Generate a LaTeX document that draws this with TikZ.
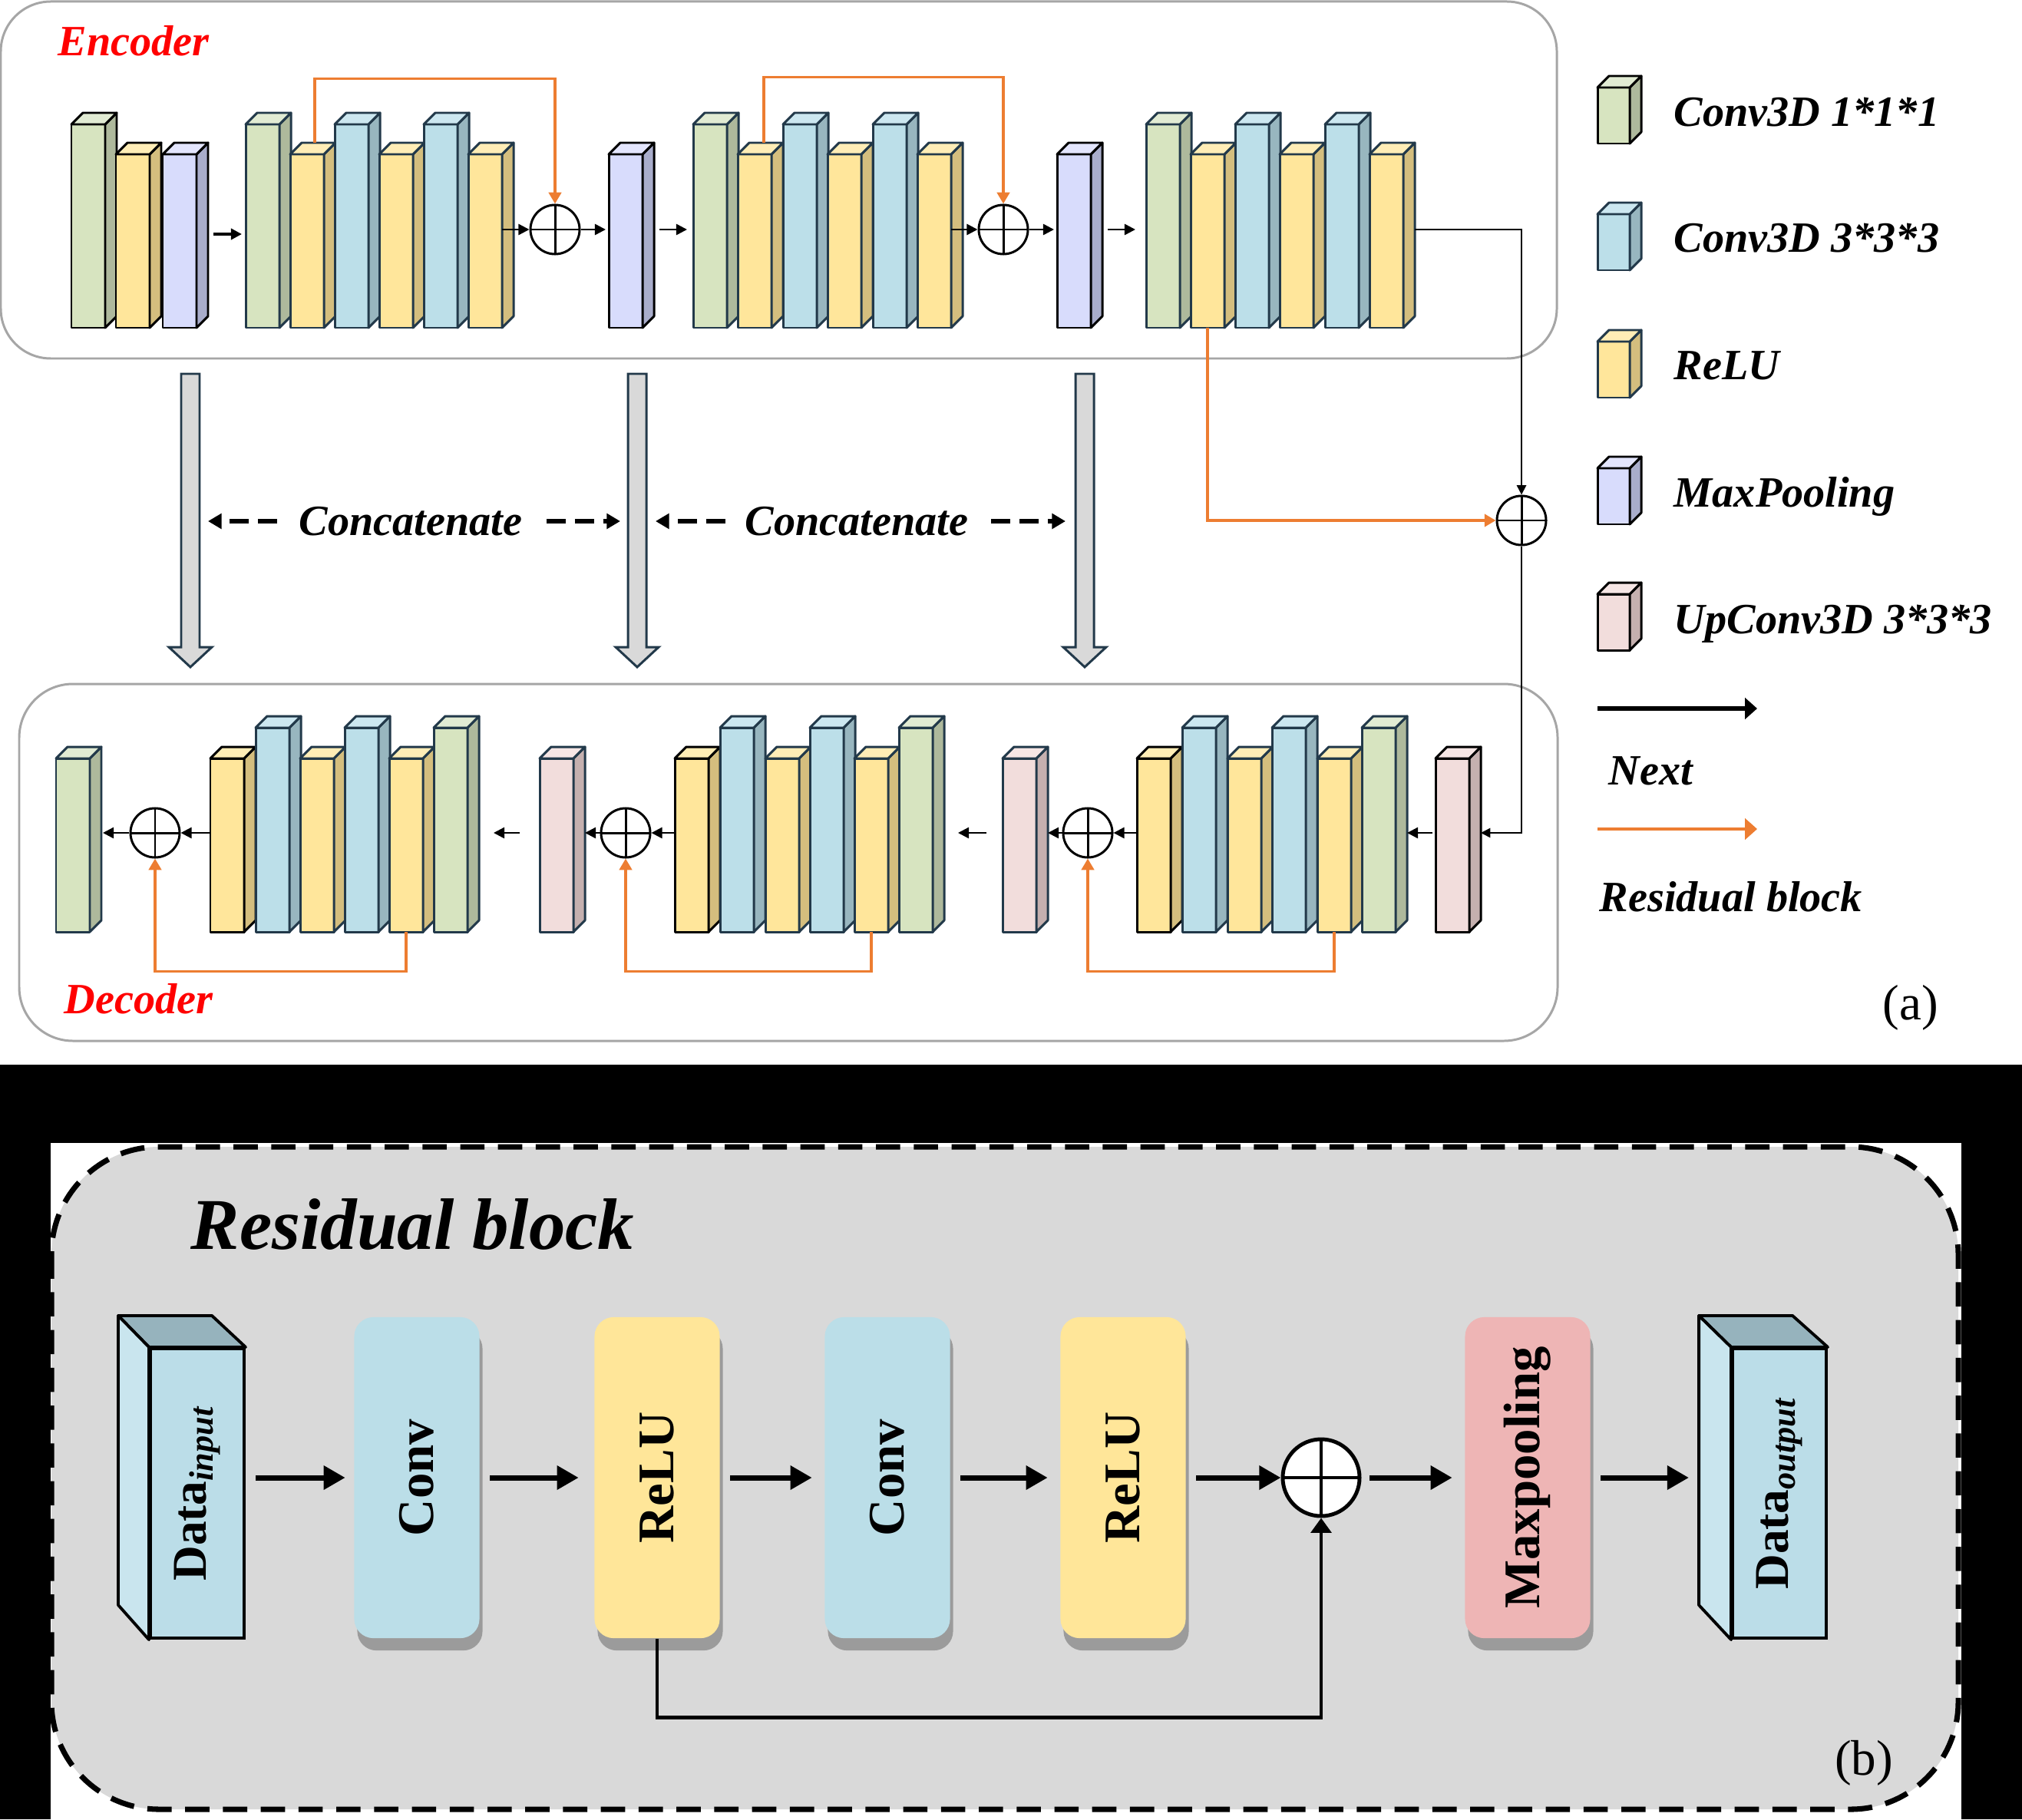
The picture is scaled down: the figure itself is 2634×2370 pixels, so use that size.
\documentclass[tikz,border=0pt]{standalone}
\usepackage{fontspec}
\usepackage{graphicx}
\setmainfont{Liberation Serif}
\usetikzlibrary{arrows.meta,calc,shadows}

\definecolor{slate}{HTML}{22394A}
\definecolor{grn}{HTML}{D7E4C0}\definecolor{grnside}{HTML}{AEB99C}\definecolor{grntop}{HTML}{E1EBD3}
\definecolor{blu}{HTML}{BCDFE9}\definecolor{bluside}{HTML}{98B6BF}\definecolor{blutop}{HTML}{CCE7F0}
\definecolor{ylw}{HTML}{FFE69B}\definecolor{ylwside}{HTML}{D4BE7E}\definecolor{ylwtop}{HTML}{FFEDB6}
\definecolor{prp}{HTML}{D8DCFC}\definecolor{prpside}{HTML}{A9ADCB}\definecolor{prptop}{HTML}{E3E5FD}
\definecolor{pnk}{HTML}{F2DDDC}\definecolor{pnkside}{HTML}{C5B0AF}\definecolor{pnktop}{HTML}{F6E6E5}
\definecolor{res}{HTML}{ED7D31}
\definecolor{frm}{HTML}{A6A6A6}
\definecolor{panel}{HTML}{D9D9D9}
\definecolor{cv}{HTML}{BBDEE8}
\definecolor{rl}{HTML}{FFE699}
\definecolor{mp}{HTML}{EEB5B5}
\definecolor{dfront}{HTML}{BBDDE8}\definecolor{dtop}{HTML}{96B3BD}\definecolor{dside}{HTML}{C9E5EE}

% one 3D slab: name, corner, width, height, colour, border
\newcommand{\slab}[6]{%
  \node[bar, draw=#6, fill=#5, minimum width=#3*0.01cm, minimum height=#4*0.01cm] (#1) at (#2) {};
  \filldraw[face, draw=#6, fill=#5side] (#1.north east) -- ++(15,-15) -- ++(0,#4) -- (#1.south east) -- cycle;
  \filldraw[face, draw=#6, fill=#5top] (#1.north west) -- ++(15,-15) -- ++(#3,0) -- (#1.north east) -- cycle;
}

\tikzset{
  bar/.style={anchor=north west, inner sep=0pt, outer sep=0pt, line width=0.85pt, line join=round},
  face/.style={line width=0.85pt, line join=round},
  addop/.style={circle, draw, fill=white, line width=0.85pt, minimum size=0.64cm, inner sep=0pt,
    path picture={\draw[line width=0.85pt] (path picture bounding box.north) -- (path picture bounding box.south)
      (path picture bounding box.west) -- (path picture bounding box.east);}},
  flow/.style={-{Triangle[length=4pt,width=4pt]}, line width=0.7pt},
  feed/.style={-{Triangle[length=3.5pt,width=3.5pt]}, line width=0.5pt},
  resid/.style={res, -{Triangle[length=4.2pt,width=4.6pt]}, line width=1.1pt},
  boxline/.style={draw=frm, line width=0.85pt, rounded corners=0.65cm},
  lbl/.style={font=\fontsize{16}{19}\selectfont\bfseries\itshape, inner sep=0pt},
  hollow/.style={fill=panel, draw=slate, line width=0.85pt, line join=miter},
  cat/.style={-{Triangle[length=5pt,width=5.5pt]}, line width=1.5pt, dash pattern=on 7pt off 3.5pt},
  nextarrow/.style={-{Triangle[length=4.5pt,width=7.7pt]}, line width=1.7pt},
  blockb/.style={rounded corners=0.25cm, minimum width=1.63cm, minimum height=4.18cm, inner sep=0pt,
    font=\fontsize{19}{19}\selectfont\bfseries,
    drop shadow={shadow xshift=0.04cm, shadow yshift=-0.16cm, fill=black!55, opacity=0.6}},
  dbox/.style={draw, fill=dfront, line width=1.1pt, minimum width=1.22cm, minimum height=3.77cm, inner sep=0pt,
    font=\fontsize{18}{18}\selectfont\bfseries},
  dface/.style={line width=1.1pt, line join=round},
  addb/.style={circle, draw, fill=white, line width=1.4pt, minimum size=1cm, inner sep=0pt,
    path picture={\draw[line width=1.4pt] (path picture bounding box.north) -- (path picture bounding box.south)
      (path picture bounding box.west) -- (path picture bounding box.east);}},
  bflow/.style={-{Triangle[length=8pt,width=8.5pt]}, line width=2pt, shorten <=0.13cm, shorten >=0.16cm},
  skip/.style={-{Triangle[length=5.5pt,width=7.5pt]}, line width=1.4pt},
}

\begin{document}
\begin{tikzpicture}[x=0.01cm, y=-0.01cm]
  \useasboundingbox (0,0) rectangle (2634,2370);
  \fill[white] (0,0) rectangle (2634,1387);
  \fill[black] (0,1387) rectangle (2634,2370);
  \fill[white] (66,1489) rectangle (2555,2370);

  % (a) frames
  \draw[boxline] (1,2) rectangle (2028,467);
  \draw[boxline, rounded corners=0.7cm] (25,891) rectangle (2029,1356);
  \node[lbl, text=red, anchor=base west] (enc) at (75,73) {Encoder};
  \node[lbl, text=red, anchor=base west] (dec) at (83,1320) {Decoder};

  % skip connections between encoder and decoder
  \foreach \n/\cx in {sh1/248, sh2/830, sh3/1413} {
    \filldraw[hollow] (\cx-12,487) -- (\cx+12,487) -- (\cx+12,843) -- (\cx+28,843)
      -- (\cx,869) -- (\cx-28,843) -- (\cx-12,843) -- cycle;
    \coordinate (\n) at (\cx,679);
  }
  \node[lbl, anchor=base] (cc1) at (535,697) {Concatenate};
  \node[lbl, anchor=base] (cc2) at (1116,697) {Concatenate};
  \draw[cat] ($(cc1.west|-sh1)+(-28,0)$) -- ($(sh1)+(23,0)$);
  \draw[cat] ($(cc1.east|-sh1)+(31,0)$) -- ($(sh2)+(-22,0)$);
  \draw[cat] ($(cc2.west|-sh2)+(-25,0)$) -- ($(sh2)+(24,0)$);
  \draw[cat] ($(cc2.east|-sh2)+(29,0)$) -- ($(sh3)+(-25,0)$);

  % encoder
  \foreach \n/\x/\tp/\h/\col/\bd in {a1/93/162/265/grn/black, a2/151/201/226/ylw/black, a3/212/201/226/prp/black,
      b1/320/162/265/grn/slate, b2/378/201/226/ylw/slate, b3/436/162/265/blu/slate,
      b4/494/201/226/ylw/slate, b5/552/162/265/blu/slate, b6/610/201/226/ylw/slate,
      m1/793/201/226/prp/black,
      c1/903/162/265/grn/slate, c2/961/201/226/ylw/slate, c3/1020/162/265/blu/slate,
      c4/1078/201/226/ylw/slate, c5/1137/162/265/blu/slate, c6/1195/201/226/ylw/slate,
      m2/1377/201/226/prp/black,
      d1/1493/162/265/grn/slate, d2/1551/201/226/ylw/slate, d3/1609/162/265/blu/slate,
      d4/1667/201/226/ylw/slate, d5/1726/162/265/blu/slate, d6/1784/201/226/ylw/slate} {
    \slab{\n}{\x,\tp}{44}{\h}{\col}{\bd}
  }
  \node[addop] (s1) at (723,299) {};
  \node[addop] (s2) at (1307,299) {};
  \node[addop] (s3) at (1982,678) {};

  \draw[flow, line width=1.1pt] ($(a3.east|-s1)+(22,6)$) -- ($(b1.west|-s1)+(-5,6)$);
  \draw[flow] (b6.east|-s1) -- (s1.west);
  \draw[flow] (s1.east) -- ($(m1.west|-s1)+(-4,0)$);
  \draw[flow] ($(m1.east|-s1)+(22,0)$) -- ($(c1.west|-s1)+(-8,0)$);
  \draw[flow] (c6.east|-s2) -- (s2.west);
  \draw[flow] (s2.east) -- ($(m2.west|-s2)+(-4,0)$);
  \draw[flow] ($(m2.east|-s2)+(22,0)$) -- ($(d1.west|-s2)+(-14,0)$);
  \draw[resid] ($(b2.north)+(10,-15)$) |- ($(s1.north)+(0,-163)$) -- (s1.north);
  \draw[resid] ($(c2.north)+(12,-15)$) |- ($(s2.north)+(0,-165)$) -- (s2.north);
  \draw[resid] (d2.south) |- (s3.west);
  \draw[feed] ($(d6.east|-s2)+(15,0)$) -| (s3.north);

  % decoder
  \foreach \n/\x/\tp/\h/\col/\bd in {out/73/988/226/grn/slate,
      k1/274/988/226/ylw/black, k2/333/948/266/blu/slate, k3/391/988/226/ylw/slate,
      k4/449/948/266/blu/slate, k5/507/988/226/ylw/slate, k6/565/948/266/grn/slate,
      up3/703/988/226/pnk/slate,
      h1/879/988/226/ylw/black, h2/938/948/266/blu/slate, h3/997/988/226/ylw/slate,
      h4/1055/948/266/blu/slate, h5/1113/988/226/ylw/slate, h6/1171/948/266/grn/slate,
      up2/1306/988/226/pnk/slate,
      f1/1481/988/226/ylw/black, f2/1540/948/266/blu/slate, f3/1599/988/226/ylw/slate,
      f4/1657/948/266/blu/slate, f5/1716/988/226/ylw/slate, f6/1774/948/266/grn/slate,
      up1/1870/988/226/pnk/black} {
    \slab{\n}{\x,\tp}{44}{\h}{\col}{\bd}
  }
  \node[addop] (s4) at (1417,1085) {};
  \node[addop] (s5) at (815,1085) {};
  \node[addop] (s6) at (202,1085) {};

  \draw[feed] (s3.south) |- ($(up1.east|-s4)+(15,0)$);
  \draw[flow] ($(up1.west|-s4)+(-4,0)$) -- ($(f6.east|-s4)+(15,0)$);
  \draw[flow] (f1.west|-s4) -- (s4.east);
  \draw[flow] (s4.west) -- ($(up2.east|-s4)+(15,0)$);
  \draw[flow] ($(up2.west|-s5)+(-21,0)$) -- ($(h6.east|-s5)+(33,0)$);
  \draw[flow] (h1.west|-s5) -- (s5.east);
  \draw[flow] (s5.west) -- ($(up3.east|-s5)+(15,0)$);
  \draw[flow] ($(up3.west|-s6)+(-26,0)$) -- ($(k6.east|-s6)+(34,0)$);
  \draw[flow] (k1.west|-s6) -- (s6.east);
  \draw[flow] (s6.west) -- ($(out.east|-s6)+(17,0)$);
  \draw[resid] (f5.south) |- ($(s4.south)+(0,147)$) -- (s4.south);
  \draw[resid] (h5.south) |- ($(s5.south)+(0,147)$) -- (s5.south);
  \draw[resid] (k5.south) |- ($(s6.south)+(0,147)$) -- (s6.south);

  % legend
  \foreach \n/\tp/\col/\bd in {lg1/114/grn/black, lg2/279/blu/slate, lg3/445/ylw/slate, lg4/610/prp/black, lg5/774/pnk/black} {
    \slab{\n}{2081,\tp}{42}{73}{\col}{\bd}
  }
  \foreach \n/\y/\txt in {lt1/165/Conv3D 1*1*1, lt2/329/Conv3D 3*3*3, lt3/494/ReLU, lt4/660/MaxPooling, lt5/825/UpConv3D 3*3*3} {
    \node[lbl, anchor=base west] (\n) at (2180,\y) {\txt};
  }
  \coordinate (nx0) at (2081,923);
  \coordinate (nx1) at (2289,923);
  \coordinate (rs0) at (2081,1080);
  \coordinate (rs1) at (2289,1080);
  \draw[nextarrow] (nx0) -- (nx1);
  \draw[nextarrow, res, line width=1.3pt] (rs0) -- (rs1);
  \node[lbl, anchor=base west] (nxt) at (2095,1022) {Next};
  \node[lbl, anchor=base west] (rsb) at (2083,1187) {Residual block};
  \node[font=\fontsize{18.5}{20}\selectfont, inner sep=0pt] (taga) at (2489,1313) {(a)};

  % (b) residual block
  \draw[fill=panel, line width=2pt, dash pattern=on 9pt off 5pt, rounded corners=1.4cm] (67,1494) rectangle (2551,2357);
  \node[font=\fontsize{27}{30}\selectfont\bfseries\itshape, inner sep=0pt, anchor=base west] (ttl) at (248,1627) {Residual block};

  \node[dbox] (din) at (257,1945.5) {\rotatebox{90}{Data\textsubscript{\itshape input}}};
  \filldraw[dface, fill=dtop] (din.north west) -- ++(-40,-41) -- ++(122,0) -- (din.north east) -- cycle;
  \filldraw[dface, fill=dside] (din.north west) -- ++(-40,-41) -- ++(0,377) -- (din.south west) -- cycle;
  \node[dbox] (dout) at (2318,1945.5) {\rotatebox{90}{Data\textsubscript{\itshape output}}};
  \filldraw[dface, fill=dtop] (dout.north west) -- ++(-42,-41) -- ++(122,0) -- (dout.north east) -- cycle;
  \filldraw[dface, fill=dside] (dout.north west) -- ++(-42,-41) -- ++(0,377) -- (dout.south west) -- cycle;

  \node[blockb, fill=cv] (cv1) at (543,1925) {\rotatebox{90}{Conv}};
  \node[blockb, fill=rl] (rl1) at (856,1925) {\rotatebox{90}{ReLU}};
  \node[blockb, fill=cv] (cv2) at (1156,1925) {\rotatebox{90}{Conv}};
  \node[blockb, fill=rl] (rl2) at (1463,1925) {\rotatebox{90}{ReLU}};
  \node[addb] (add) at (1721,1925) {};
  \node[blockb, fill=mp] (mp) at (1990,1925) {\rotatebox{90}{Maxpooling}};

  \draw[bflow, shorten >=0.11cm] (din.east|-cv1) -- (cv1.west);
  \draw[bflow, shorten >=0.2cm] (cv1.east) -- (rl1.west);
  \draw[bflow] (rl1.east) -- (cv2.west);
  \draw[bflow] (cv2.east) -- (rl2.west);
  \draw[bflow, shorten >=0pt] (rl2.east) -- (add.west);
  \draw[bflow, shorten <=0.1cm] (add.east) -- (mp.west);
  \draw[bflow, shorten >=0.55cm] (mp.east) -- (dout.west|-mp);
  \draw[skip] (rl1.south) -- ++(0,103) -| (add.south);

  \node[font=\fontsize{18.5}{20}\selectfont, inner sep=0pt] (tagb) at (2428,2297) {(b)};
\end{tikzpicture}
\end{document}
